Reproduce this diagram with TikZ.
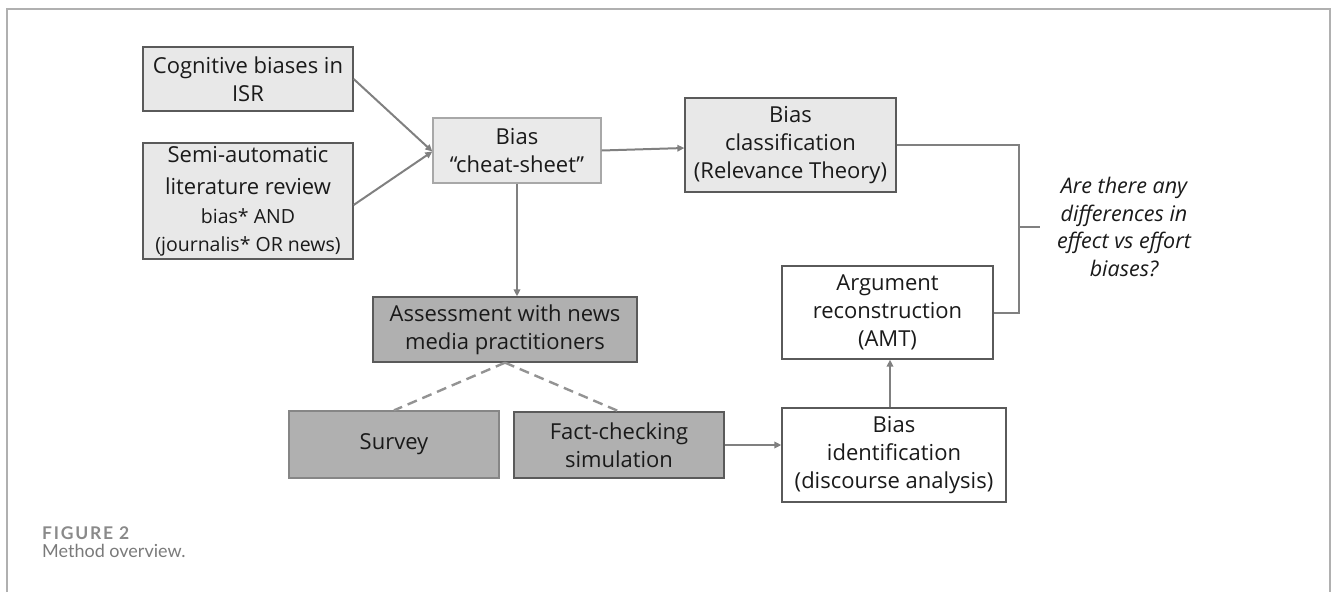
\documentclass[tikz,border=0pt]{standalone}
\usepackage{fontspec}
\setmainfont{Open Sans}
\newfontfamily\capfont{Lato}
\newfontfamily\capfontwide{Lato}[LetterSpace=10]
\usetikzlibrary{arrows.meta,calc}
\definecolor{framecol}{HTML}{B0B0B0}
\definecolor{lightfill}{HTML}{E8E8E8}
\definecolor{darkfill}{HTML}{B0B0B0}
\definecolor{edgedark}{HTML}{5A5A5A}
\definecolor{edgelight}{HTML}{A8A8A8}
\definecolor{linkcol}{HTML}{808080}
\definecolor{textcol}{HTML}{1A1A1A}
\definecolor{capcol}{HTML}{8A8A8A}
\definecolor{capcoltwo}{HTML}{7A7A7A}
\begin{document}
\begin{tikzpicture}[x=1pt,y=-1pt,
  basebox/.style={rectangle, inner sep=0pt, align=center, text=textcol,
    line width=1.3pt, font=\fontsize{22}{28}\selectfont},
  lightbox/.style={basebox, fill=lightfill, draw=edgedark},
  darkbox/.style={basebox, fill=darkfill, draw=edgedark},
  whitebox/.style={basebox, fill=white, draw=edgedark},
  link/.style={draw=linkcol, line width=2pt},
  arrowlink/.style={link, -{Triangle[length=7pt,width=6.5pt]}},
  dashlink/.style={draw=linkcol!85!white, line width=2.4pt, dash pattern=on 10pt off 6pt},
  question/.style={align=center, text=textcol, font=\itshape\fontsize{21.5}{27.5}\selectfont}
]
\useasboundingbox (0,0) rectangle (1333,592);
\draw[framecol, line width=1.5pt] (7,592) -- (7,9) -- (1330,9) -- (1330,592);

\node[lightbox, minimum width=210pt, minimum height=64pt] (cog) at (248,79)
  {Cognitive biases in\\ISR};
\node[lightbox, minimum width=210pt, minimum height=116pt] (semi) at (248,201)
  {Semi-automatic\\[4pt]literature review\\[1pt]\fontsize{19.5}{25}\selectfont bias* AND\\\fontsize{19.5}{25}\selectfont (journalis* OR news)};
\node[lightbox, draw=edgelight, fill=lightfill!90!white, minimum width=168pt, minimum height=65pt] (cheat) at (517,150.5)
  {Bias\\“cheat-sheet”};
\node[lightbox, minimum width=211pt, minimum height=94pt] (class) at (790.5,145)
  {Bias\\classification\\(Relevance Theory)};
\node[darkbox, minimum width=264pt, minimum height=65pt] (assess) at (505,329.5)
  {Assessment with news\\media practitioners};
\node[darkbox, draw=edgelight!80!black, minimum width=210pt, minimum height=67pt] (survey) at (394,444.5)
  {Survey};
\node[darkbox, minimum width=210pt, minimum height=66pt] (fact) at (619,445)
  {Fact-checking\\simulation};
\node[whitebox, minimum width=211pt, minimum height=93pt] (arg) at (887.5,312.5)
  {Argument\\reconstruction\\(AMT)};
\node[whitebox, minimum width=224pt, minimum height=94pt] (ident) at (894,455)
  {Bias\\identification\\(discourse analysis)};
\node[question] (q) at (1124,227)
  {Are there any\\differences in\\effect vs effort\\biases?};

\node[anchor=base west, inner sep=0pt, text=capcol] (figlabel) at (42,539)
  {\capfontwide\bfseries\fontsize{17.5}{20}\selectfont FIGURE 2};
\node[anchor=base west, inner sep=0pt, text=capcoltwo] (figcap) at (42,557)
  {\capfont\fontsize{18}{21}\selectfont Method overview.};

% connectors
\draw[arrowlink] (cog.east) -- ([yshift=-1pt]cheat.west);
\draw[arrowlink] ([yshift=-4pt]semi.east) -- ([yshift=-1pt]cheat.west);
\draw[arrowlink] (cheat.east) -- ([yshift=-3pt]class.west);
\draw[arrowlink] (cheat.south) -- (cheat.south |- assess.north);
\draw[dashlink] (assess.south) -- (survey.north);
\draw[dashlink] (assess.south) -- (fact.north);
\draw[arrowlink] (fact.east) -- (ident.west |- fact.east);
\draw[arrowlink] ([xshift=2.5pt]arg.south |- ident.north) -- ([xshift=2.5pt]arg.south);

\coordinate (bx) at (1019,0);
\coordinate (tk) at (1040,227);
\draw[link] (class.east) -- (class.east -| bx) -- (bx |- arg.east) -- (arg.east);
\draw[link] (bx |- tk) -- (tk);
\end{tikzpicture}
\end{document}
